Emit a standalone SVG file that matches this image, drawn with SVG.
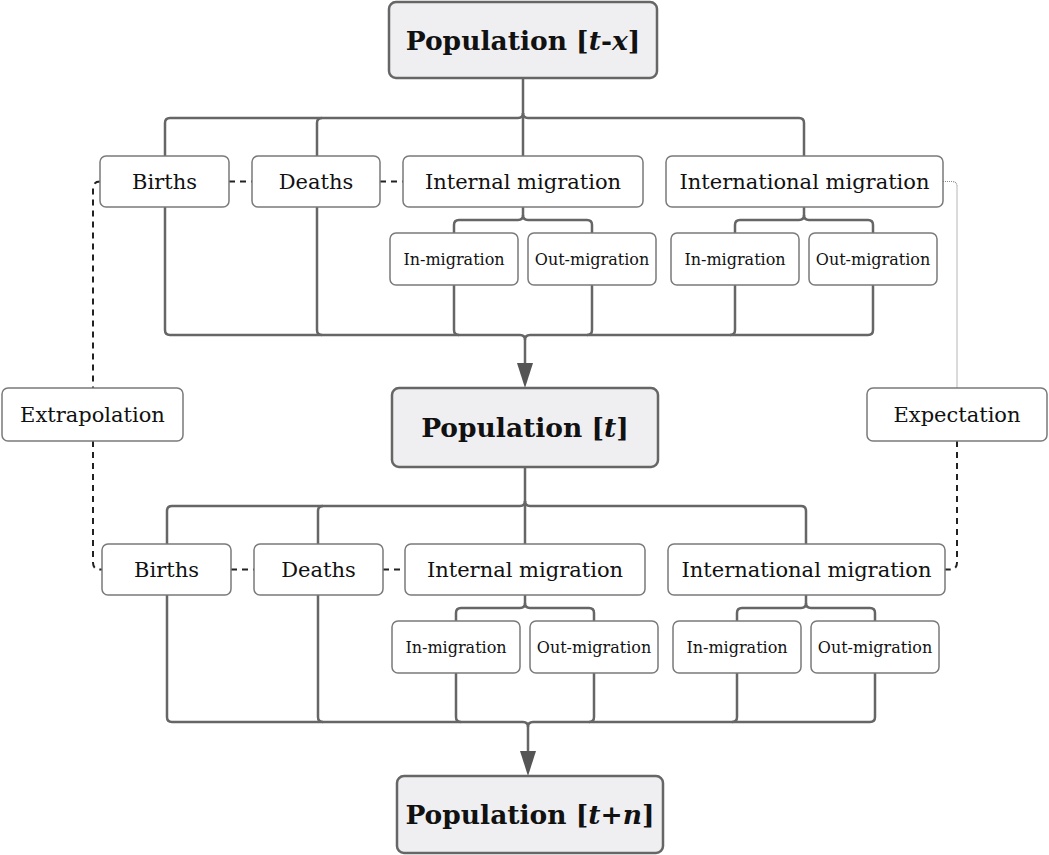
<svg xmlns="http://www.w3.org/2000/svg" width="1049" height="855" viewBox="0 0 1049 855">
<defs>
<style>
.box{fill:#ffffff;stroke:#7a7a7a;stroke-width:1.5}
.pop{fill:#efeff1;stroke:#666;stroke-width:2.5}
.t{font-family:"DejaVu Serif","Liberation Serif",serif;font-size:21px;fill:#111;text-anchor:middle}
.s{font-family:"DejaVu Serif","Liberation Serif",serif;font-size:16px;fill:#111;text-anchor:middle}
.b{font-family:"DejaVu Serif","Liberation Serif",serif;font-size:26.5px;font-weight:bold;fill:#111;text-anchor:middle}
.tree{fill:none;stroke:#666;stroke-width:2.5}
.dash{fill:none;stroke:#222;stroke-width:2;stroke-dasharray:6 5}
.dot{fill:none;stroke:#888;stroke-width:1.2;stroke-dasharray:1 1}
</style>
<marker id="arr" viewBox="0 0 25 16" refX="5" refY="8" markerWidth="25" markerHeight="16" markerUnits="userSpaceOnUse" orient="auto">
<path d="M0,0 L25,8 L0,16 Z" fill="#555"/>
</marker>
</defs>

<g id="connectors">
<!-- upper tree -->
<path class="tree" d="M523,78 V156"/>
<path class="tree" d="M523,113 q0,5 -5,5 H170 q-5,0 -5,5 V156"/>
<path class="tree" d="M322,118 q-5,0 -5,5 V156"/>
<path class="tree" d="M523,113 q0,5 5,5 H799 q5,0 5,5 V156"/>
<path class="tree" d="M523,207 V215 q0,5 -5,5 H459 q-5,0 -5,5 V233"/>
<path class="tree" d="M523,215 q0,5 5,5 H587 q5,0 5,5 V233"/>
<path class="tree" d="M804,207 V215 q0,5 -5,5 H740 q-5,0 -5,5 V233"/>
<path class="tree" d="M804,215 q0,5 5,5 H868 q5,0 5,5 V233"/>
<path class="tree" d="M165,207 V330 q0,5 5,5 H520 q5,0 5,5 V368" marker-end="url(#arr)"/>
<path class="tree" d="M317,207 V330 q0,5 5,5"/>
<path class="tree" d="M454,285 V330 q0,5 5,5"/>
<path class="tree" d="M873,285 V330 q0,5 -5,5 H530 q-5,0 -5,5"/>
<path class="tree" d="M592,285 V330 q0,5 -5,5"/>
<path class="tree" d="M735,285 V330 q0,5 -5,5"/>
<!-- lower tree -->
<path class="tree" d="M525,467 V544"/>
<path class="tree" d="M525,501 q0,5 -5,5 H172 q-5,0 -5,5 V544"/>
<path class="tree" d="M323,506 q-5,0 -5,5 V544"/>
<path class="tree" d="M525,501 q0,5 5,5 H801 q5,0 5,5 V544"/>
<path class="tree" d="M525,595 V603 q0,5 -5,5 H461 q-5,0 -5,5 V621"/>
<path class="tree" d="M525,603 q0,5 5,5 H589 q5,0 5,5 V621"/>
<path class="tree" d="M806,595 V603 q0,5 -5,5 H742 q-5,0 -5,5 V621"/>
<path class="tree" d="M806,603 q0,5 5,5 H870 q5,0 5,5 V621"/>
<path class="tree" d="M167,595 V717 q0,5 5,5 H523 q5,0 5,5 V756" marker-end="url(#arr)"/>
<path class="tree" d="M318,595 V717 q0,5 5,5"/>
<path class="tree" d="M456,673 V717 q0,5 5,5"/>
<path class="tree" d="M875,673 V717 q0,5 -5,5 H533 q-5,0 -5,5"/>
<path class="tree" d="M594,673 V717 q0,5 -5,5"/>
<path class="tree" d="M737,673 V717 q0,5 -5,5"/>
<!-- dashed links -->
<path class="dash" d="M229,181.5 H252"/>
<path class="dash" d="M380,181.5 H403"/>
<path class="dash" d="M231,569.5 H254"/>
<path class="dash" d="M383,569.5 H405"/>
<path class="dash" d="M100,181.5 q-7,0 -7,7 V388"/>
<path class="dash" d="M93,441 V562.5 q0,7 7,7 H102"/>
<path class="dot" d="M943,181.5 H952 q5,0 5,5 V388"/>
<path class="dash" d="M957,441 V562.5 q0,7 -7,7 H945"/>
</g>

<g id="pop-tx"><rect class="pop" x="389" y="2" width="268" height="76" rx="7"/><text class="b" x="523" y="50">Population [<tspan font-style="italic">t</tspan>-<tspan font-style="italic">x</tspan>]</text></g>
<g id="pop-t"><rect class="pop" x="392" y="388" width="266" height="79" rx="7"/><text class="b" x="525" y="437">Population [<tspan font-style="italic">t</tspan>]</text></g>
<g id="pop-tn"><rect class="pop" x="397" y="776" width="266" height="77" rx="7"/><text class="b" x="530" y="824">Population [<tspan font-style="italic">t</tspan>+<tspan font-style="italic">n</tspan>]</text></g>

<g id="births1"><rect class="box" x="100" y="156" width="129" height="51" rx="6"/><text class="t" x="164.5" y="189">Births</text></g>
<g id="deaths1"><rect class="box" x="252" y="156" width="128" height="51" rx="6"/><text class="t" x="316" y="189">Deaths</text></g>
<g id="internal1"><rect class="box" x="403" y="156" width="240" height="51" rx="6"/><text class="t" x="523" y="189">Internal migration</text></g>
<g id="intl1"><rect class="box" x="666" y="156" width="277" height="51" rx="6"/><text class="t" x="804.5" y="189">International migration</text></g>
<g id="in1"><rect class="box" x="390" y="233" width="128" height="52" rx="6"/><text class="s" x="454" y="265">In-migration</text></g>
<g id="out1"><rect class="box" x="528" y="233" width="128" height="52" rx="6"/><text class="s" x="592" y="265">Out-migration</text></g>
<g id="in1b"><rect class="box" x="671" y="233" width="128" height="52" rx="6"/><text class="s" x="735" y="265">In-migration</text></g>
<g id="out1b"><rect class="box" x="809" y="233" width="128" height="52" rx="6"/><text class="s" x="873" y="265">Out-migration</text></g>

<g id="births2"><rect class="box" x="102" y="544" width="129" height="51" rx="6"/><text class="t" x="166.5" y="577">Births</text></g>
<g id="deaths2"><rect class="box" x="254" y="544" width="129" height="51" rx="6"/><text class="t" x="318.5" y="577">Deaths</text></g>
<g id="internal2"><rect class="box" x="405" y="544" width="240" height="51" rx="6"/><text class="t" x="525" y="577">Internal migration</text></g>
<g id="intl2"><rect class="box" x="668" y="544" width="277" height="51" rx="6"/><text class="t" x="806.5" y="577">International migration</text></g>
<g id="in2"><rect class="box" x="392" y="621" width="128" height="52" rx="6"/><text class="s" x="456" y="653">In-migration</text></g>
<g id="out2"><rect class="box" x="530" y="621" width="128" height="52" rx="6"/><text class="s" x="594" y="653">Out-migration</text></g>
<g id="in2b"><rect class="box" x="673" y="621" width="128" height="52" rx="6"/><text class="s" x="737" y="653">In-migration</text></g>
<g id="out2b"><rect class="box" x="811" y="621" width="128" height="52" rx="6"/><text class="s" x="875" y="653">Out-migration</text></g>

<g id="extrapolation"><rect class="box" x="2" y="388" width="181" height="53" rx="6"/><text class="t" x="92.5" y="422">Extrapolation</text></g>
<g id="expectation"><rect class="box" x="867" y="388" width="180" height="53" rx="6"/><text class="t" x="957" y="422">Expectation</text></g>
</svg>
